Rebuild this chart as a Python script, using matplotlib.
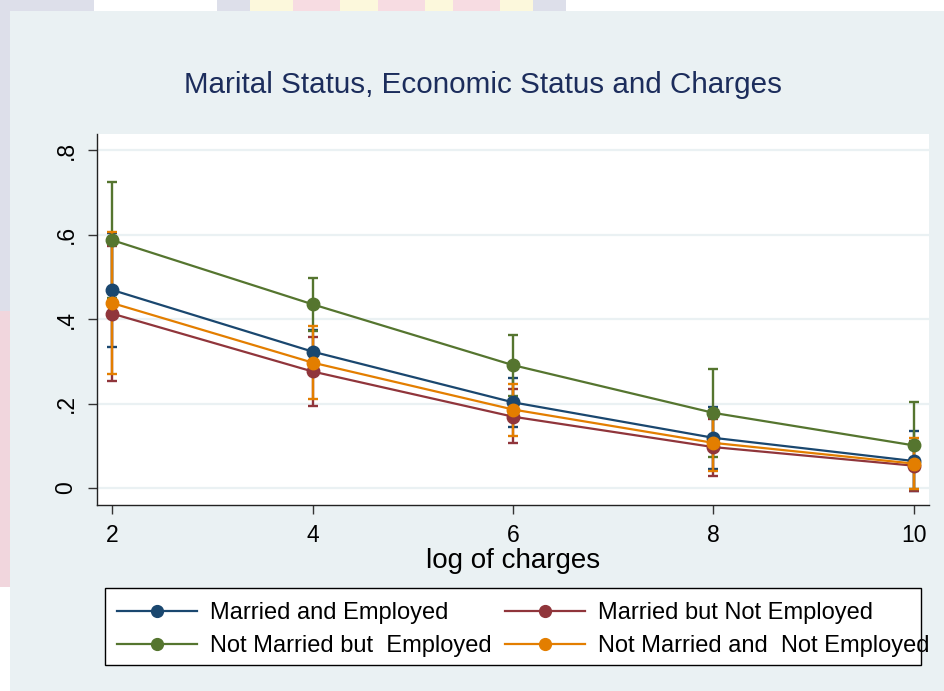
import matplotlib
matplotlib.use("Agg")
import matplotlib.pyplot as plt
from matplotlib.patches import Rectangle

plt.rcParams['font.family'] = ['Liberation Sans', 'DejaVu Sans']

# predictive margins with 95% CIs, by log of charges
log_charges = [2, 4, 6, 8, 10]
groups = ["Married and Employed", "Married but Not Employed",
          "Not Married but  Employed", "Not Married and  Not Employed"]

married_emp       = [0.469, 0.323, 0.203, 0.119, 0.064]
married_emp_lo    = [0.334, 0.272, 0.145, 0.045, -0.007]
married_emp_hi    = [0.604, 0.374, 0.260, 0.193, 0.135]

married_nemp      = [0.413, 0.276, 0.169, 0.097, 0.053]
married_nemp_lo   = [0.254, 0.194, 0.106, 0.029, -0.006]
married_nemp_hi   = [0.572, 0.357, 0.234, 0.163, 0.112]

single_emp        = [0.587, 0.435, 0.291, 0.178, 0.101]
single_emp_lo     = [0.449, 0.372, 0.219, 0.073, -0.002]
single_emp_hi     = [0.725, 0.498, 0.363, 0.282, 0.204]

single_nemp       = [0.438, 0.297, 0.186, 0.107, 0.058]
single_nemp_lo    = [0.271, 0.212, 0.124, 0.040, -0.002]
single_nemp_hi    = [0.605, 0.383, 0.246, 0.174, 0.118]

yticks = [0, 0.2, 0.4, 0.6, 0.8]
ytick_labels = ["0", ".2", ".4", ".6", ".8"]

series = [
    (married_emp, married_emp_lo, married_emp_hi, '#1A476F'),
    (married_nemp, married_nemp_lo, married_nemp_hi, '#90353B'),
    (single_emp, single_emp_lo, single_emp_hi, '#55752F'),
    (single_nemp, single_nemp_lo, single_nemp_hi, '#E37E00'),
]

bg = '#EAF1F3'
W, H = 944, 691
fig = plt.figure(figsize=(W / 100, H / 100), dpi=100, facecolor='white')

# faint logo showing around the frame
for x0, y0, w, h, c in [
    (0.0, 0.55, 0.011, 0.45, '#DDDFEA'),
    (0.0, 0.15, 0.011, 0.40, '#F1D6DD'),
    (0.0, 0.984, 0.10, 0.016, '#DDDFEA'),
    (0.23, 0.984, 0.035, 0.016, '#DDDFEA'),
    (0.265, 0.984, 0.30, 0.016, '#FCF8DC'),
    (0.31, 0.984, 0.05, 0.016, '#F7DCE2'),
    (0.40, 0.984, 0.05, 0.016, '#F7DCE2'),
    (0.48, 0.984, 0.05, 0.016, '#F7DCE2'),
    (0.565, 0.984, 0.035, 0.016, '#DDDFEA'),
]:
    fig.patches.append(Rectangle((x0, y0), w, h, transform=fig.transFigure,
                                 color=c, zorder=-2, lw=0))
fig.patches.append(Rectangle((10 / W, 0), 1, 1 - 11 / H, transform=fig.transFigure,
                             color=bg, zorder=-1, lw=0))

ax = fig.add_axes([97 / W, 186 / H, 832 / W, 371 / H])
ax.set_facecolor('white')

# CIs first, connected lines on top
for mean, lo, hi, col in series:
    err = [[m - l for m, l in zip(mean, lo)], [h - m for m, h in zip(mean, hi)]]
    ax.errorbar(log_charges, mean, yerr=err, fmt='none', ecolor=col,
                elinewidth=1.7, capsize=3.8, capthick=1.7)
lines = []
for (mean, lo, hi, col), name in zip(series, groups):
    ln, = ax.plot(log_charges, mean, color=col, lw=1.6, marker='o', ms=9,
                  mec=col, mfc=col, label=name)
    lines.append(ln)

ax.set_xlim(1.85, 10.15)
ax.set_ylim(-0.040, 0.838)
ax.set_xticks(log_charges)
ax.set_yticks(yticks)
ax.set_yticklabels(ytick_labels, rotation=90, va='center')
ax.tick_params(axis='both', labelsize=16.5, length=6.5, width=1, color='#333333')
ax.tick_params(axis='x', pad=7)
ax.tick_params(axis='y', pad=7.5)
ax.grid(axis='y', color=bg, lw=1.6)
ax.set_axisbelow(True)
for side in ['top', 'right']:
    ax.spines[side].set_visible(False)
for side in ['left', 'bottom']:
    ax.spines[side].set_color('#222222')
    ax.spines[side].set_linewidth(1.0)

ax.set_xlabel('log of charges', fontsize=20, labelpad=1)
fig.text(483 / W, 1 - 85 / H, 'Marital Status, Economic Status and Charges',
         ha='center', va='center', fontsize=21.3, color='#1C2D5C')

# legend box drawn separately; the long last label runs past its edge
fig.patches.append(Rectangle((105 / W, 1 - 665 / H), 816 / W, 77 / H,
                             transform=fig.transFigure, facecolor='white',
                             edgecolor='black', lw=1.0, zorder=1))

# legend fills column by column, so order entries to read across rows
order = [0, 2, 1, 3]
leg = fig.legend([lines[i] for i in order], [groups[i] for i in order],
                 ncol=2, loc='upper left', bbox_to_anchor=(110 / W, 1 - 595 / H),
                 fontsize=17, frameon=False,
                 handlelength=3.4, handletextpad=0.55, columnspacing=0.55,
                 labelspacing=0.46, borderpad=0.3, borderaxespad=0)
leg.set_zorder(2)
for h in leg.legend_handles:
    h.set_markersize(8.5)

fig.savefig('out.png', dpi=100, facecolor=fig.get_facecolor())
